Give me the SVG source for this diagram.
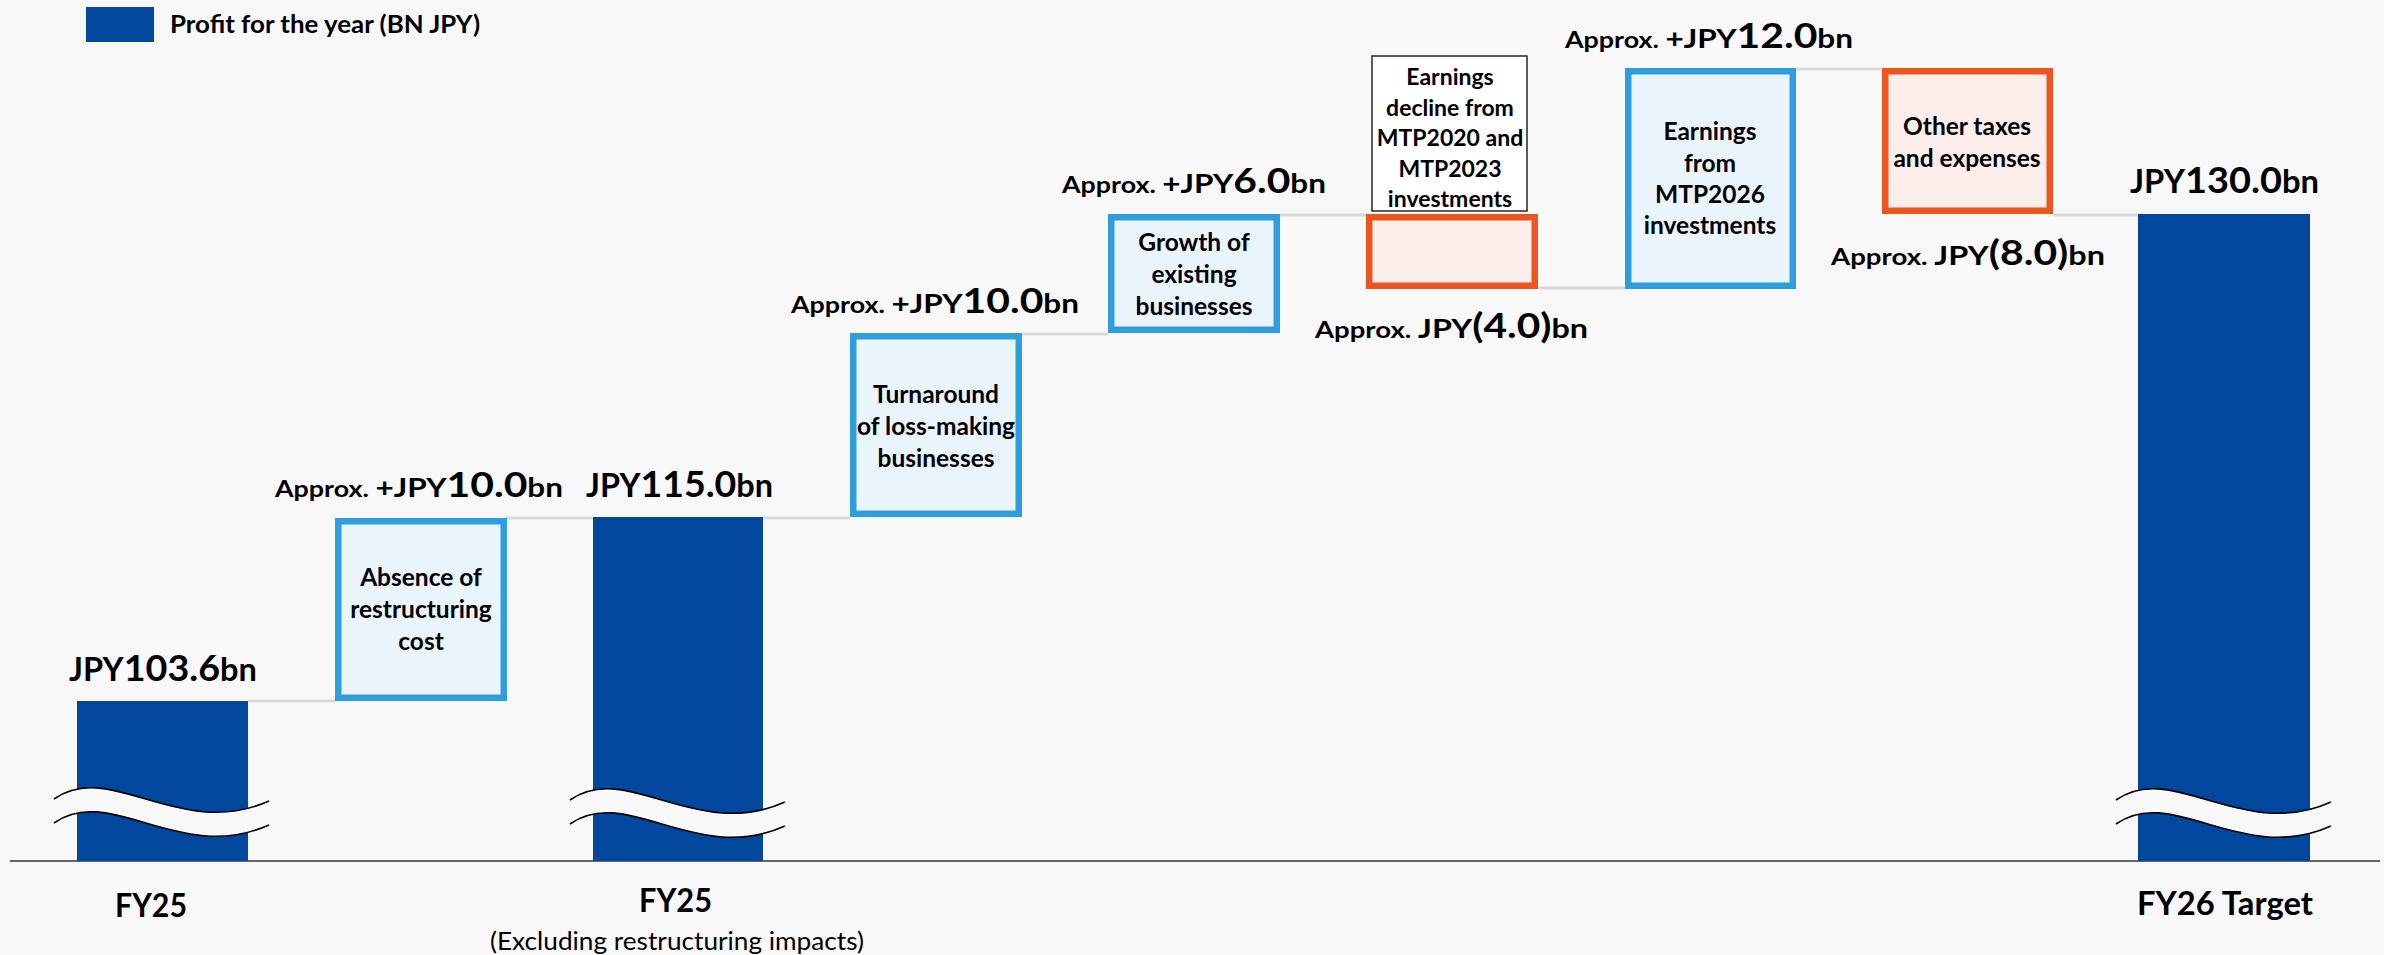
<svg xmlns="http://www.w3.org/2000/svg" xmlns:xlink="http://www.w3.org/1999/xlink" width="2384" height="955" viewBox="0 0 2384 955">
<style>
text{font-family:Lato,"Liberation Sans",Arial,sans-serif;font-weight:700;fill:#000}
.bar{fill:#00479D}
.bb{fill:#EAF4FB;stroke:#2E9FDC;stroke-width:6.5}
.ob{fill:#FCEEEA;stroke:#EA5520;stroke-width:6.5}
.cn{stroke:#D9D9D9;stroke-width:3;fill:none}
.bx{font-size:24.5px;text-anchor:middle}
.lb{font-size:25px}
.a{font-size:23px}
.m{font-size:27px}
.d{font-size:35px}
.M{font-size:32px}
.D{font-size:37px}
.cat{font-size:33px}
.wv{fill:#F8F8F8;stroke:none}
.wl{fill:none;stroke:#000;stroke-width:1.6}
</style>
<defs>
<g id="brk">
<path class="wv" d="M0,0 C56,-40 126,42 215,2 L215,26 C126,66 56,-16 0,24 Z"/>
<path class="wl" d="M0,0 C56,-40 126,42 215,2"/>
<path class="wl" d="M0,24 C56,-16 126,66 215,26"/>
</g>
</defs>
<rect x="0" y="0" width="2384" height="955" fill="#F8F8F8"/>

<g id="legend">
<rect x="86" y="7" width="68" height="35" class="bar"/>
<text x="170" y="33" class="lb" textLength="310" lengthAdjust="spacingAndGlyphs">Profit for the year (BN JPY)</text>
</g>

<g id="connectors">
<line class="cn" x1="248" y1="701" x2="336" y2="701"/>
<line class="cn" x1="505" y1="518" x2="593" y2="518"/>
<line class="cn" x1="763" y1="518" x2="850" y2="518"/>
<line class="cn" x1="1022" y1="334" x2="1108" y2="334"/>
<line class="cn" x1="1280" y1="215" x2="1366" y2="215"/>
<line class="cn" x1="1538" y1="288" x2="1625" y2="288"/>
<line class="cn" x1="1796" y1="69" x2="1882" y2="69"/>
<line class="cn" x1="2053" y1="215" x2="2138" y2="215"/>
<line x1="10" y1="861" x2="2380" y2="861" stroke="#666666" stroke-width="2"/>
</g>

<g id="bar-fy25">
<rect x="77" y="701" width="171" height="160" class="bar"/>
<use xlink:href="#brk" x="54" y="799"/>
<text x="69" y="681" textLength="188" lengthAdjust="spacingAndGlyphs"><tspan class="M">JPY</tspan><tspan class="D">103.6</tspan><tspan class="M">bn</tspan></text>
<text x="115" y="917" class="cat" textLength="72" lengthAdjust="spacingAndGlyphs">FY25</text>
</g>

<g id="box-absence">
<rect x="338.25" y="521.25" width="165.5" height="176.5" class="bb"/>
<text class="bx"><tspan x="421" y="586">Absence of</tspan><tspan x="421" y="618">restructuring</tspan><tspan x="421" y="650">cost</tspan></text>
<text x="275" y="497" textLength="288" lengthAdjust="spacingAndGlyphs"><tspan class="a">Approx. </tspan><tspan class="m">+JPY</tspan><tspan class="d">10.0</tspan><tspan class="m">bn</tspan></text>
</g>

<g id="bar-fy25-ex">
<rect x="593" y="517" width="170" height="344" class="bar"/>
<use xlink:href="#brk" x="570" y="800"/>
<text x="586" y="497" textLength="187" lengthAdjust="spacingAndGlyphs"><tspan class="M">JPY</tspan><tspan class="D">115.0</tspan><tspan class="M">bn</tspan></text>
<text x="639" y="912" class="cat" textLength="73" lengthAdjust="spacingAndGlyphs">FY25</text>
<text x="490" y="950" style="font-weight:400;font-size:25px" textLength="374" lengthAdjust="spacingAndGlyphs">(Excluding restructuring impacts)</text>
</g>

<g id="box-turnaround">
<rect x="853.25" y="336.25" width="165.5" height="177.5" class="bb"/>
<text class="bx"><tspan x="936" y="403">Turnaround</tspan><tspan x="936" y="435">of loss-making</tspan><tspan x="936" y="467">businesses</tspan></text>
<text x="791" y="313" textLength="288" lengthAdjust="spacingAndGlyphs"><tspan class="a">Approx. </tspan><tspan class="m">+JPY</tspan><tspan class="d">10.0</tspan><tspan class="m">bn</tspan></text>
</g>

<g id="box-growth">
<rect x="1111.25" y="217.25" width="165.5" height="112.5" class="bb"/>
<text class="bx"><tspan x="1194" y="251">Growth of</tspan><tspan x="1194" y="283">existing</tspan><tspan x="1194" y="315">businesses</tspan></text>
<text x="1062" y="193" textLength="264" lengthAdjust="spacingAndGlyphs"><tspan class="a">Approx. </tspan><tspan class="m">+JPY</tspan><tspan class="d">6.0</tspan><tspan class="m">bn</tspan></text>
</g>

<g id="box-decline">
<rect x="1369.25" y="217.25" width="165.5" height="68.5" class="ob"/>
<rect x="1372" y="56" width="155" height="155" fill="#FFFFFF" stroke="#262626" stroke-width="1.5"/>
<text class="bx" style="font-size:23px"><tspan x="1450" y="85">Earnings</tspan><tspan x="1450" y="116">decline from</tspan><tspan x="1450" y="146">MTP2020 and</tspan><tspan x="1450" y="177">MTP2023</tspan><tspan x="1450" y="207">investments</tspan></text>
<text x="1315" y="338" textLength="273" lengthAdjust="spacingAndGlyphs"><tspan class="a">Approx. </tspan><tspan class="m">JPY</tspan><tspan style="font-size:34px">(4.0)</tspan><tspan class="m">bn</tspan></text>
</g>

<g id="box-mtp2026">
<rect x="1628.25" y="71.25" width="164.5" height="214.5" class="bb"/>
<text class="bx"><tspan x="1710" y="140">Earnings</tspan><tspan x="1710" y="172">from</tspan><tspan x="1710" y="203">MTP2026</tspan><tspan x="1710" y="234">investments</tspan></text>
<text x="1565" y="48" textLength="288" lengthAdjust="spacingAndGlyphs"><tspan class="a">Approx. </tspan><tspan class="m">+JPY</tspan><tspan class="d">12.0</tspan><tspan class="m">bn</tspan></text>
</g>

<g id="box-taxes">
<rect x="1885.25" y="71.25" width="164.5" height="139.5" class="ob"/>
<text class="bx"><tspan x="1967" y="135">Other taxes</tspan><tspan x="1967" y="167">and expenses</tspan></text>
<text x="1831" y="265" textLength="274" lengthAdjust="spacingAndGlyphs"><tspan class="a">Approx. </tspan><tspan class="m">JPY</tspan><tspan style="font-size:34px">(8.0)</tspan><tspan class="m">bn</tspan></text>
</g>

<g id="bar-fy26">
<rect x="2138" y="214" width="172" height="647" class="bar"/>
<use xlink:href="#brk" x="2116" y="800"/>
<text x="2130" y="193" textLength="189" lengthAdjust="spacingAndGlyphs"><tspan class="M">JPY</tspan><tspan class="D">130.0</tspan><tspan class="M">bn</tspan></text>
<text x="2137" y="915" class="cat" textLength="176" lengthAdjust="spacingAndGlyphs">FY26 Target</text>
</g>
</svg>
